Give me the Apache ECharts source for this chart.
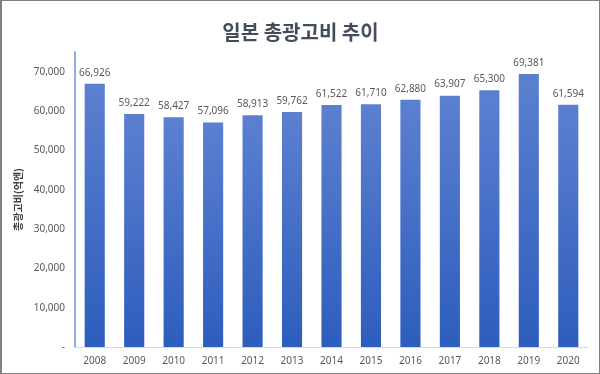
<!DOCTYPE html>
<html>
<head>
<meta charset="utf-8">
<script src="https://cdn.jsdelivr.net/npm/echarts@6/dist/echarts.min.js"></script>
<style>
html,body{margin:0;padding:0;background:#fff;}
#c{width:600px;height:374px;box-sizing:border-box;border:1px solid #808080;border-left:2px solid #808080;}
</style>
</head>
<body>
<div id="c"></div>
<script>
const titleText = '일본 총광고비 추이';
const yAxisName = '총광고비(억엔)';
const categories = ['2008','2009','2010','2011','2012','2013','2014','2015','2016','2017','2018','2019','2020'];
const values = [66926,59222,58427,57096,58913,59762,61522,61710,62880,63907,65300,69381,61594];

const chart = echarts.init(document.getElementById('c'));
chart.setOption({
  animation: false,
  title: {
    text: titleText,
    left: 'center',
    top: 16,
    textStyle: {fontSize: 20, fontWeight: 'bold', color: '#434d5c', fontFamily: '"Noto Sans CJK KR", sans-serif'}
  },
  grid: {left: 73, right: 11, top: 51, bottom: 26},
  xAxis: {
    type: 'category',
    data: categories,
    axisLine: {lineStyle: {color: '#d9d9d9'}},
    axisTick: {show: false},
    axisLabel: {color: '#595959', fontSize: 10, margin: 9, fontFamily: '"Noto Sans", sans-serif'}
  },
  yAxis: {
    type: 'value',
    min: 0, max: 75000, interval: 10000,
    name: yAxisName,
    nameLocation: 'middle',
    nameGap: 50,
    nameTextStyle: {fontSize: 10, fontWeight: 'bold', color: '#404040', fontFamily: '"Noto Sans CJK KR", sans-serif'},
    axisLine: {show: true, lineStyle: {color: '#7092d4', width: 1.5}},
    axisTick: {show: false},
    splitLine: {show: false},
    axisLabel: {
      color: '#595959', fontSize: 10, margin: 10, showMaxLabel: false,
      fontFamily: '"Noto Sans", sans-serif',
      formatter: v => v === 0 ? '-' : v.toLocaleString('en-US')
    }
  },
  series: [{
    type: 'bar',
    data: values,
    barWidth: '51%',
    itemStyle: {
      color: new echarts.graphic.LinearGradient(0, 0, 0, 1, [
        {offset: 0, color: '#5c80d0'},
        {offset: 1, color: '#2d5dbd'}
      ])
    },
    label: {
      show: true, position: 'top', distance: 6,
      color: '#595959', fontSize: 10, fontFamily: '"Noto Sans", sans-serif',
      formatter: p => p.value.toLocaleString('en-US')
    }
  }]
});
</script>
</body>
</html>
